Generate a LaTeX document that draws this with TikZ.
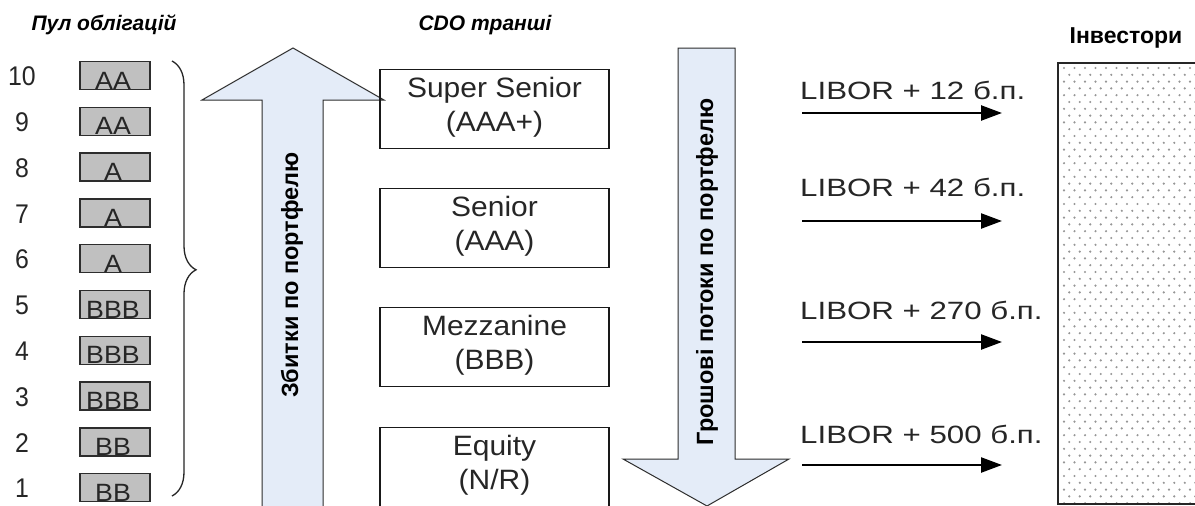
\documentclass[tikz,border=0pt]{standalone}
\usepackage{fontspec}
\setmainfont{Liberation Sans}
\newfontfamily\fnarrow[FakeStretch=0.92]{Liberation Sans}
\newfontfamily\fwide[FakeStretch=1.07]{Liberation Sans}
\newfontfamily\fwider[FakeStretch=1.25]{Liberation Sans}
\usetikzlibrary{arrows.meta,decorations.pathreplacing}

\definecolor{flowblue}{RGB}{228,236,248}
\definecolor{bondgray}{RGB}{192,192,192}
\definecolor{edgegray}{RGB}{45,45,45}
\definecolor{dotgray}{RGB}{150,150,150}

\tikzset{
  heading/.style={font=\fontsize{21}{24}\selectfont\bfseries\itshape, inner sep=0pt},
  plainhead/.style={font=\fontsize{23}{26}\selectfont\bfseries, inner sep=0pt},
  num/.style={font=\fnarrow\fontsize{27}{30}\selectfont, text=black!85, inner sep=0pt},
  bond/.style={draw=edgegray, line width=1.3pt, fill=bondgray, minimum width=70pt, minimum height=28pt, inner sep=0pt},
  bondtxt/.style={font=\fwide\fontsize{25}{28}\selectfont, text=black!85, inner sep=0pt, anchor=base},
  tranche/.style={draw=black!90, line width=1.5pt, minimum width=229pt, minimum height=79pt, inner sep=0pt},
  tranchetxt/.style={font=\fwide\fontsize{28}{34}\selectfont, text=black!85, align=center, inner sep=0pt},
  flow/.style={fill=flowblue, draw=edgegray, line width=1pt, line join=miter},
  rot/.style={rotate=90, font=\fontsize{23.5}{27}\selectfont\bfseries, inner sep=0pt},
  rate/.style={font=\fwider\fontsize{25}{30}\selectfont, text=black!85, inner sep=0pt, anchor=west},
  pay/.style={line width=2.4pt, -{Triangle[length=21pt,width=15pt]}},
}

\begin{document}
\begin{tikzpicture}[x=1pt,y=-1pt]
\useasboundingbox (0,0) rectangle (1195,506);
\clip (0,0) rectangle (1195,506);
\fill[white] (0,0) rectangle (1195,506);

% column headings
\node[heading] (pool) at (104,25) {Пул облігацій};
\node[heading] (cdo) at (485,25) {CDO транші};
\node[plainhead] (inv) at (1126,38) {Інвестори};

% bond pool: numbers and rated boxes
\foreach \i/\r in {10/AA,9/AA,8/A,7/A,6/A,5/BBB,4/BBB,3/BBB,2/BB,1/BB} {
  \pgfmathsetmacro\yy{75.5+(10-\i)*45.8}
  \node[num] (n\i) at (22,\yy+1) {\i};
  \node[bond] (b\i) at (115,\yy) {};
  \node[bondtxt] (l\i) at (113,\yy+13.5) {\r};
}

% brace gathering the pool
\coordinate (braceTop) at (172,61);
\coordinate (braceBot) at (172,496);
\draw[decorate, decoration={brace, amplitude=24pt, aspect=0.48}, line width=1.3pt, black!85] (braceTop) -- (braceBot);

% losses flow upward
\filldraw[flow] (262,515) -- (262,100) -- (202,100) -- (293,48) -- (384,100) -- (323,100) -- (323,515) -- cycle;
\node[rot] (loss) at (292,275) {Збитки по портфелю};

% cash flows downward
\filldraw[flow] (678,48) -- (735,48) -- (735,459) -- (789,459) -- (707,506) -- (623,459) -- (678,459) -- cycle;
\node[rot] (cash) at (707,272) {Грошові потоки по портфелю};

% tranches
\node[tranche] (ss) at (494.5,109) {};
\node[tranchetxt, yshift=2pt] (sst) at (ss.center) {Super Senior\\(AAA+)};
\node[tranche] (sn) at (494.5,228) {};
\node[tranchetxt, yshift=2pt] (snt) at (sn.center) {Senior\\(AAA)};
\node[tranche] (mz) at (494.5,347) {};
\node[tranchetxt, yshift=2pt] (mzt) at (mz.center) {Mezzanine\\(BBB)};
\node[tranche] (eq) at (494.5,467) {};
\node[tranchetxt, yshift=2pt] (eqt) at (eq.center) {Equity\\(N/R)};

% coupons paid to investors
\node[rate] (r1) at (800,90) {LIBOR + 12 б.п.};
\node[rate] (r2) at (800,187) {LIBOR + 42 б.п.};
\node[rate] (r3) at (800,310) {LIBOR + 270 б.п.};
\node[rate] (r4) at (800,434) {LIBOR + 500 б.п.};
\coordinate (p1s) at (802,113); \coordinate (p1e) at (1002,113);
\coordinate (p2s) at (802,221); \coordinate (p2e) at (1002,221);
\coordinate (p3s) at (802,342); \coordinate (p3e) at (1002,342);
\coordinate (p4s) at (802,465); \coordinate (p4e) at (1002,465);
\draw[pay] (p1s) -- (p1e);
\draw[pay] (p2s) -- (p2e);
\draw[pay] (p3s) -- (p3e);
\draw[pay] (p4s) -- (p4e);

% investors block with dotted fill
\begin{scope}
  \clip (1059,64) rectangle (1195,503);
  \foreach \r in {0,...,65} {
    \foreach \c in {0,...,13} {
      \pgfmathsetmacro\dx{1064+\c*10.5+mod(\r,2)*5.25}
      \pgfmathsetmacro\dy{68+\r*6.8}
      \fill[dotgray] (\dx,\dy) circle (1.2pt);
    }
  }
\end{scope}
\draw[line width=2.5pt, black!85] (1058,63) rectangle (1198,504);
\end{tikzpicture}
\end{document}
